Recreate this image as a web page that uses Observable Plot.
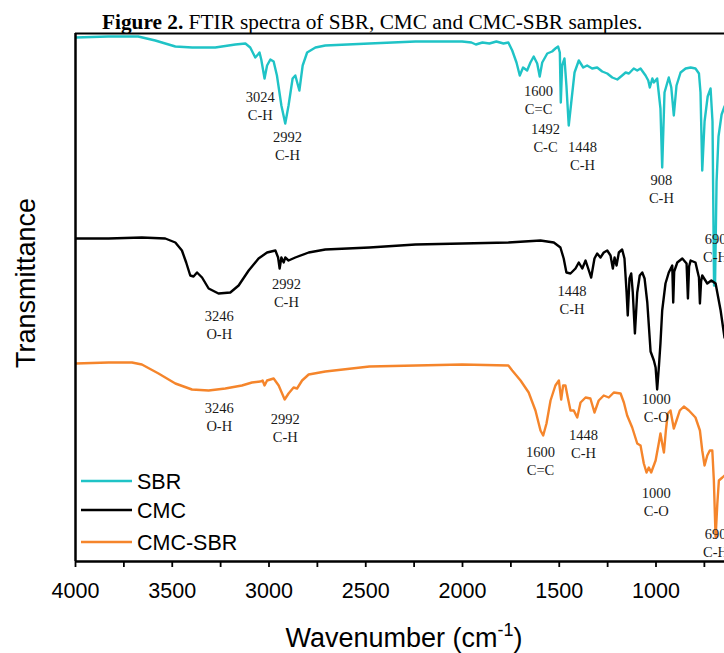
<!DOCTYPE html>
<html><head><meta charset="utf-8">
<script src="https://cdn.jsdelivr.net/npm/d3@7"></script>
<script src="https://cdn.jsdelivr.net/npm/@observablehq/plot@0.6"></script>
<style>body{margin:0;background:#fff}</style>
</head><body><div id="chart"></div>
<script>
const seriesNames = ["SBR", "CMC", "CMC-SBR"];
const seriesColors = ["#1fc3c6", "#000000", "#f5852b"];

// [wavenumber (cm-1), transmittance (a.u., offset per sample)]
const sbr = [[4000,524],[3831,525],[3676,525],[3588,521],[3484,515],[3397,514],[3278,514],[3174,517],[3122,518],[3097,514],[3071,504],[3057,507],[3049,509],[3040,502],[3023,483],[3010,496],[2993,502],[2976,500],[2959,486],[2936,456],[2916,438],[2899,456],[2878,483],[2864,486],[2843,471],[2826,496],[2803,509],[2760,514],[2709,516],[2481,518],[2243,520],[2002,520],[1954,519],[1931,517],[1897,519],[1861,518],[1825,520],[1788,518],[1763,519],[1743,511],[1721,499],[1704,486],[1687,494],[1666,491],[1649,499],[1632,505],[1614,498],[1601,485],[1588,499],[1562,508],[1537,510],[1520,513],[1506,515],[1497,509],[1492,459],[1485,496],[1473,503],[1463,476],[1451,436],[1438,459],[1421,489],[1399,501],[1376,494],[1356,496],[1330,493],[1304,494],[1278,490],[1252,488],[1226,484],[1200,482],[1175,486],[1157,489],[1140,488],[1115,493],[1097,491],[1080,493],[1054,486],[1040,481],[1032,474],[1019,483],[1011,479],[994,483],[977,453],[968,394],[956,469],[934,484],[921,474],[908,446],[894,476],[873,489],[847,493],[821,494],[796,493],[778,488],[770,469],[761,391],[749,440],[733,465],[718,473],[708,440],[700,276],[695,276],[687,380],[677,425],[661,447],[646,455]];

const cmc = [[4000,323],[3829,323],[3657,324],[3536,323],[3484,319],[3450,311],[3428,299],[3407,286],[3390,285],[3372,289],[3346,284],[3312,273],[3261,268],[3200,269],[3157,276],[3105,291],[3054,303],[3010,309],[2967,311],[2953,304],[2945,293],[2936,304],[2924,299],[2916,304],[2899,301],[2864,304],[2795,309],[2709,312],[2481,314],[2243,317],[2000,318],[1763,319],[1597,321],[1528,319],[1494,314],[1477,303],[1463,289],[1442,288],[1416,293],[1399,299],[1381,293],[1364,301],[1347,291],[1335,284],[1318,303],[1304,308],[1287,304],[1270,309],[1252,311],[1235,306],[1223,293],[1214,304],[1204,296],[1192,309],[1175,312],[1163,303],[1152,269],[1146,246],[1137,283],[1128,288],[1120,269],[1109,228],[1097,269],[1084,286],[1071,289],[1059,283],[1045,259],[1028,210],[1011,201],[1002,194],[994,172],[985,195],[977,218],[968,251],[951,278],[934,289],[916,296],[911,259],[906,290],[890,299],[864,303],[842,298],[835,263],[829,295],[821,301],[796,299],[778,284],[773,258],[767,280],[761,286],[735,278],[714,281],[692,278],[666,251],[646,224]];

const cmcSbr = [[4000,198],[3829,199],[3708,199],[3657,197],[3571,188],[3484,178],[3398,172],[3312,171],[3226,173],[3140,176],[3088,179],[3045,180],[3033,181],[3023,176],[3010,181],[2976,183],[2950,176],[2919,162],[2899,168],[2873,174],[2855,173],[2829,181],[2795,187],[2709,190],[2481,195],[2241,196],[2002,197],[1763,196],[1743,191],[1700,181],[1658,169],[1623,151],[1597,131],[1583,126],[1566,138],[1545,161],[1520,176],[1502,181],[1490,162],[1480,176],[1468,176],[1456,164],[1442,151],[1425,151],[1407,144],[1390,159],[1364,164],[1339,163],[1318,149],[1296,161],[1270,166],[1244,164],[1218,169],[1183,168],[1166,159],[1149,146],[1123,134],[1097,118],[1080,116],[1063,98],[1049,89],[1037,94],[1025,89],[1002,101],[985,119],[977,128],[968,118],[959,109],[949,131],[939,148],[925,151],[908,133],[894,141],[877,151],[856,155],[830,151],[796,144],[773,131],[761,111],[749,96],[735,106],[722,111],[709,111],[701,81],[692,24],[683,58],[675,81],[657,84],[646,86]];

const peakLabels = [
  {w:3045, t:456, text:"3024\nC-H"},
  {w:2905, t:416, text:"2992\nC-H"},
  {w:1607, t:462, text:"1600\nC=C"},
  {w:1571, t:424, text:"1492\nC-C"},
  {w:1380, t:406, text:"1448\nC-H"},
  {w:972, t:373, text:"908\nC-H"},
  {w:692, t:314, text:"690\nC-H"},
  {w:3257, t:237, text:"3246\nO-H"},
  {w:2910, t:269, text:"2992\nC-H"},
  {w:1434, t:262, text:"1448\nC-H"},
  {w:999, t:154, text:"1000\nC-O"},
  {w:3257, t:145, text:"3246\nO-H"},
  {w:2916, t:134, text:"2992\nC-H"},
  {w:1597, t:101, text:"1600\nC=C"},
  {w:1375, t:118, text:"1448\nC-H"},
  {w:999, t:60, text:"1000\nC-O"},
  {w:692, t:19, text:"690\nC-H"}
];

const xTicks = [4000,3750,3500,3250,3000,2750,2500,2250,2000,1750,1500,1250,1000,750];
const xDomain = [4000, 646];
const yDomain = [0, 528];

const rows = [];
[sbr, cmc, cmcSbr].forEach((s, i) => s.forEach(([w, t]) => rows.push({series: seriesNames[i], w, t})));

const chart = Plot.plot({
  width: 724, height: 653,
  marginLeft: 75, marginRight: 0, marginTop: 33, marginBottom: 92,
  x: {domain: xDomain},
  y: {domain: yDomain, axis: null},
  color: {domain: seriesNames, range: seriesColors},
  style: {fontFamily: "'Liberation Sans', Arial, sans-serif", background: "#fff", color: "#000"},
  marks: [
    Plot.line(rows, {x: "w", y: "t", z: "series", stroke: "series", strokeWidth: 2.4, clip: "frame"}),
    Plot.text(peakLabels, {x: "w", y: "t", text: "text", fontFamily: "'Liberation Serif', 'Times New Roman', serif", fontSize: 14.5, lineHeight: 1.2, fill: "#1a1a1a"}),
    Plot.ruleX([xDomain[0]], {strokeWidth: 2.5}),
    Plot.ruleY([yDomain[1]], {strokeWidth: 2}),
    Plot.ruleY([yDomain[0]], {strokeWidth: 2.5}),
    Plot.axisX(xTicks, {tickSize: 6, tickPadding: 15, strokeWidth: 1.8, fontSize: 21.5, label: null,
      tickFormat: d => d % 500 === 0 ? String(d) : ""})
  ]
});

const svg = d3.select(chart);
// title
const title = svg.append("text").attr("x", 102).attr("y", 29).attr("text-anchor", "start")
  .attr("font-family", "'Liberation Serif', 'Times New Roman', serif").attr("font-size", 21.3).attr("fill", "#000");
title.append("tspan").attr("font-weight", "bold").text("Figure 2.");
title.append("tspan").text(" FTIR spectra of SBR, CMC and CMC-SBR samples.");
// y label
svg.append("text").attr("transform", "translate(35,283) rotate(-90)").attr("text-anchor", "middle")
  .attr("font-size", 27).attr("fill", "#000").text("Transmittance");
// x label
const xl = svg.append("text").attr("x", 404).attr("y", 647).attr("text-anchor", "middle")
  .attr("font-size", 27).attr("fill", "#000");
xl.append("tspan").text("Wavenumber (cm");
xl.append("tspan").attr("font-size", 18).attr("dy", -11).text("-1");
xl.append("tspan").attr("dy", 11).text(")");
// legend
const lg = svg.append("g");
seriesNames.forEach((name, i) => {
  const y = [481, 510, 542][i];
  lg.append("line").attr("x1", 81).attr("x2", 132).attr("y1", y).attr("y2", y)
    .attr("stroke", seriesColors[i]).attr("stroke-width", 2.5);
  lg.append("text").attr("x", 137).attr("y", y + 7.5).attr("text-anchor", "start")
    .attr("font-size", 21.5).attr("fill", "#000").text(name);
});

document.getElementById("chart").appendChild(chart);
</script>
</body></html>
